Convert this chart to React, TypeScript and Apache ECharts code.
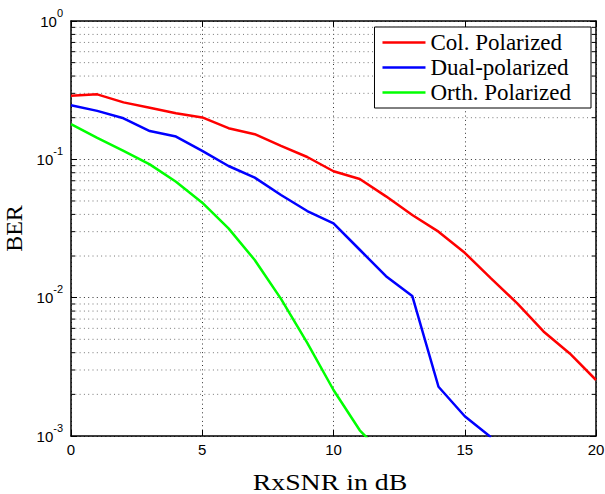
import React, { useEffect, useRef } from "react";
import * as echarts from "echarts";

const snr = [0, 1, 2, 3, 4, 5, 6, 7, 8, 9, 10, 11, 12, 13, 14, 15, 16, 17, 18, 19, 20];
const colPolarized = [0.288, 0.295, 0.258, 0.236, 0.215, 0.201, 0.168, 0.152, 0.125, 0.104, 0.082, 0.072, 0.054, 0.0396, 0.030, 0.0211, 0.0138, 0.0091, 0.0057, 0.00395, 0.00254];
const dualPolarized = [0.246, 0.224, 0.198, 0.160, 0.146, 0.115, 0.0895, 0.0737, 0.0552, 0.0423, 0.0345, 0.0222, 0.0143, 0.0103, 0.00227, 0.00139, 0.00098];
const orthPolarized = [0.180, 0.143, 0.115, 0.092, 0.0689, 0.0486, 0.0317, 0.0187, 0.0098, 0.00472, 0.00215, 0.0011, 0.0007];
const seriesNames = ["Col. Polarized", "Dual-polarized", "Orth. Polarized"];
const seriesColors = ["#ff0000", "#0000ff", "#00ff00"];
const decades = [0.001, 0.01, 0.1];
const minorMultipliers = [2, 3, 4, 5, 6, 7, 8, 9];
const xTitle = "RxSNR in dB";
const yTitle = "BER";

const SANS = "'Liberation Sans', Arial, Helvetica, sans-serif";
const SERIF = "'Liberation Serif', 'Times New Roman', serif";

function pairs(vals: number[]) {
  return vals.map((v, i) => [snr[i], v]);
}

export default function App() {
  const ref = useRef<HTMLDivElement>(null);
  useEffect(() => {
    if (!ref.current) return;
    const chart = echarts.init(ref.current, undefined, { renderer: "svg" });
    const minorData: number[][] = [];
    decades.forEach((d) => minorMultipliers.forEach((m) => minorData.push([0, d * m])));

    const lineSeries = [colPolarized, dualPolarized, orthPolarized].map((vals, i) => ({
      name: seriesNames[i],
      type: "line",
      data: pairs(vals),
      showSymbol: false,
      symbol: "none",
      lineStyle: { color: seriesColors[i], width: 2.5 },
      itemStyle: { color: seriesColors[i] },
      z: 5,
      clip: true,
    }));

    const option: any = {
      animation: false,
      backgroundColor: "#ffffff",
      grid: { left: 71, top: 21, width: 525, height: 415, containLabel: false, outerBoundsMode: "none" },
      legend: {
        data: seriesNames,
        orient: "vertical",
        right: 14,
        top: 27,
        backgroundColor: "#ffffff",
        borderColor: "#000000",
        borderWidth: 1,
        borderRadius: 0,
        padding: [3, 20, 3, 8],
        itemGap: 0,
        itemWidth: 43,
        itemHeight: 2.5,
        itemStyle: { borderWidth: 0 },
        icon: "rect",
        textStyle: { fontFamily: "Liberation Serif", fontSize: 23, color: "#000", lineHeight: 25 },
        z: 20,
      },
      graphic: [
        {
          type: "text",
          x: 330,
          y: 482,
          scaleX: 1.16,
          style: { text: xTitle, fontFamily: "Liberation Serif", fontSize: 24, fill: "#000", textAlign: "center", textVerticalAlign: "middle" },
        },
      ],
      xAxis: [
        {
          type: "value",
          min: 0,
          max: 20,
          interval: 5,
          position: "bottom",
          axisLine: { show: true, onZero: false, lineStyle: { color: "#000", width: 1.5 } },
          axisTick: { show: true, inside: true, length: 6, lineStyle: { color: "#000", width: 1 } },
          axisLabel: { fontFamily: SANS, fontSize: 15, color: "#000", margin: 6 },
          splitLine: { show: true, lineStyle: { color: "#333", width: 1, type: [1, 3.3] } },
        },
        {
          type: "value",
          min: 0,
          max: 20,
          interval: 5,
          position: "top",
          axisLine: { show: true, onZero: false, lineStyle: { color: "#000", width: 1.5 } },
          axisTick: { show: true, inside: true, length: 6, lineStyle: { color: "#000", width: 1 } },
          axisLabel: { show: false },
          splitLine: { show: false },
        },
      ],
      yAxis: [
        {
          type: "log",
          logBase: 10,
          min: 0.001,
          max: 1,
          position: "left",
          name: yTitle,
          nameLocation: "middle",
          nameGap: 39,
          nameRotate: 90,
          nameTextStyle: { fontFamily: SERIF, fontSize: 24, color: "#000" },
          axisLine: { show: true, onZero: false, lineStyle: { color: "#000", width: 1.5 } },
          axisTick: { show: true, inside: true, length: 6, lineStyle: { color: "#000", width: 1 } },
          axisLabel: {
            margin: 8,
            formatter: (v: number) => `{b|10}{s|${Math.round(Math.log10(v))}}`,
            rich: {
              b: { fontFamily: SANS, fontSize: 15, color: "#000", lineHeight: 28 },
              s: { fontFamily: SANS, fontSize: 11, color: "#000", lineHeight: 12, verticalAlign: "top" },
            },
          },
          splitLine: { show: true, lineStyle: { color: "#333", width: 1, type: [1, 3.3] } },
        },
        {
          type: "log",
          logBase: 10,
          min: 0.001,
          max: 1,
          position: "right",
          axisLine: { show: true, onZero: false, lineStyle: { color: "#000", width: 1.5 } },
          axisTick: { show: true, inside: true, length: 6, lineStyle: { color: "#000", width: 1 } },
          axisLabel: { show: false },
          splitLine: { show: false },
        },
      ],
      series: [
        {
          name: "minor",
          type: "custom",
          xAxisIndex: 0,
          yAxisIndex: 0,
          data: minorData,
          encode: { x: 0, y: 1 },
          silent: true,
          z: 1,
          clip: false,
          renderItem: (params: any, api: any) => {
            const cs = params.coordSys;
            const y = api.coord([0, api.value(1)])[1];
            return {
              type: "group",
              children: [
                { type: "line", shape: { x1: cs.x, y1: y, x2: cs.x + cs.width, y2: y }, style: { stroke: "#777", lineWidth: 1, lineDash: [1, 3.3] } },
                { type: "line", shape: { x1: cs.x, y1: y, x2: cs.x + 4, y2: y }, style: { stroke: "#000", lineWidth: 1 } },
                { type: "line", shape: { x1: cs.x + cs.width - 4, y1: y, x2: cs.x + cs.width, y2: y }, style: { stroke: "#000", lineWidth: 1 } },
              ],
            };
          },
        },
        ...lineSeries,
      ],
    };
    chart.setOption(option);
    return () => chart.dispose();
  }, []);
  return <div ref={ref} style={{ position: "fixed", left: 0, top: 0, width: 605, height: 494 }} />;
}
